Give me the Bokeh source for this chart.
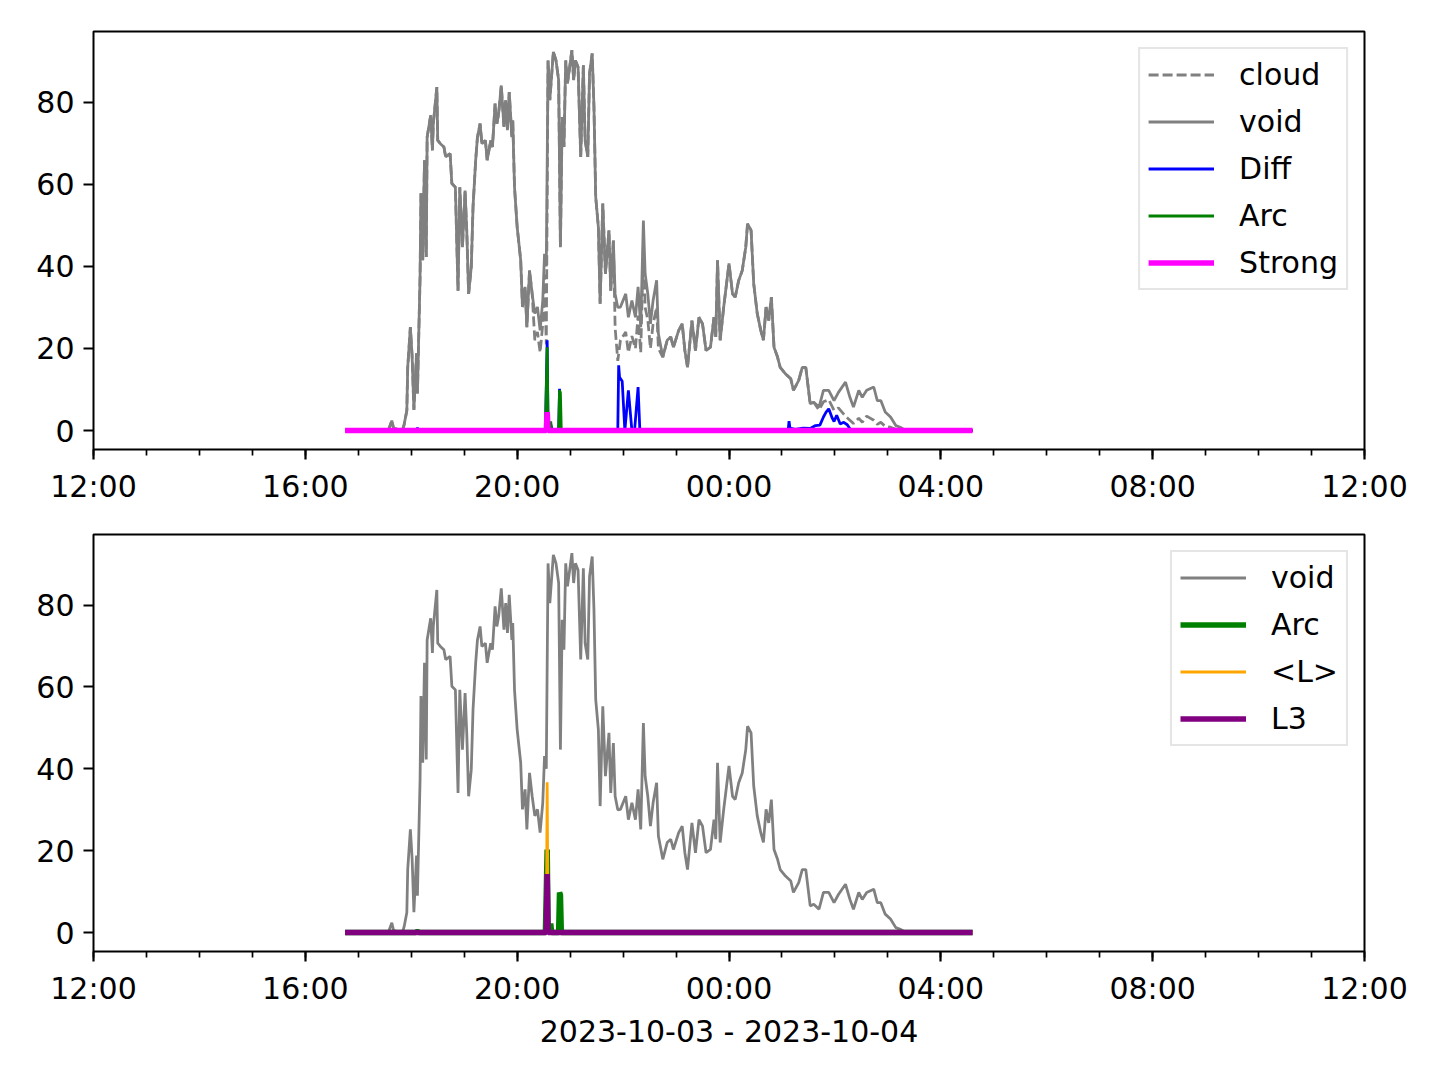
import pandas as pd
from bokeh.plotting import figure
from bokeh.layouts import column
from bokeh.models import Range1d, FixedTicker, DatetimeTickFormatter
from bokeh.embed import file_html
from bokeh.resources import INLINE

# ---------------- data ----------------
void = [("16:45", 0), ("17:34", 0), ("17:38", 2.4), ("17:40", 0.5), ("17:50", 0), ("17:52", 1.5),
        ("17:55", 4.9), ("17:56", 15.4), ("17:59", 25.2), ("18:01", 18), ("18:03", 5), ("18:06", 18.8),
        ("18:07", 9), ("18:10", 37.4), ("18:11", 57.8), ("18:13", 41.5), ("18:15", 65.9), ("18:17", 42.3),
        ("18:18", 71.5), ("18:22", 76.8), ("18:24", 68.3), ("18:25", 74.8), ("18:29", 83.7), ("18:30", 70.7),
        ("18:33", 69.9), ("18:37", 69.1), ("18:39", 66.7), ("18:44", 67.5), ("18:46", 60.2), ("18:50", 59.3),
        ("18:53", 34.1), ("18:55", 59.3), ("18:58", 44.7), ("19:01", 58.5), ("19:03", 48), ("19:05", 33.3),
        ("19:08", 39.8), ("19:10", 54.5), ("19:13", 65.9), ("19:15", 71.5), ("19:18", 74.8), ("19:20", 69.9),
        ("19:24", 70.7), ("19:26", 65.9), ("19:30", 70.7), ("19:32", 69.1), ("19:35", 79.7), ("19:37", 74.8),
        ("19:39", 77.2), ("19:42", 84.1), ("19:45", 74), ("19:47", 80.5), ("19:49", 73.2), ("19:51", 82.5),
        ("19:54", 71.5), ("19:55", 75.6), ("19:57", 59.3), ("20:00", 49.6), ("20:04", 41.5), ("20:06", 30.1),
        ("20:09", 35), ("20:11", 25.2), ("20:14", 39), ("20:17", 33.3), ("20:20", 28.5), ("20:23", 30.1),
        ("20:26", 24.4), ("20:29", 31.7), ("20:31", 43.1), ("20:33", 40), ("20:35", 90.2), ("20:37", 80.5),
        ("20:41", 92.3), ("20:44", 90.2), ("20:47", 85.4), ("20:49", 44.7), ("20:51", 76.4), ("20:53", 69.1),
        ("20:55", 90.2), ("20:57", 84.6), ("21:00", 89.4), ("21:02", 92.7), ("21:04", 85.4), ("21:06", 90.2),
        ("21:09", 88.6), ("21:12", 66.7), ("21:15", 89), ("21:17", 70.7), ("21:20", 66.7), ("21:22", 87),
        ("21:25", 91.9), ("21:27", 78.9), ("21:29", 56.9), ("21:32", 49.6), ("21:34", 30.9), ("21:37", 55.3),
        ("21:40", 38.2), ("21:44", 48.8), ("21:46", 34.1), ("21:49", 46.3), ("21:51", 33.3), ("21:54", 30),
        ("21:57", 30.1), ("22:03", 33.3), ("22:06", 27.6), ("22:10", 31.7), ("22:14", 27.6), ("22:17", 35),
        ("22:20", 25.2), ("22:23", 51.2), ("22:25", 38.2), ("22:28", 33.3), ("22:31", 26), ("22:34", 31.7),
        ("22:38", 36.6), ("22:40", 23.6), ("22:45", 17.9), ("22:50", 22), ("22:54", 22.8), ("22:57", 20.3),
        ("23:03", 24.4), ("23:07", 26), ("23:10", 19.5), ("23:13", 15.4), ("23:18", 26.8), ("23:22", 19.5),
        ("23:26", 27.6), ("23:30", 26), ("23:34", 19.5), ("23:39", 20.3), ("23:43", 27.6), ("23:45", 22.8),
        ("23:47", 41.5), ("23:50", 22), ("23:54", 30.1), ("00:00", 40.7), ("00:04", 33.3), ("00:07", 32.5),
        ("00:11", 36.6), ("00:15", 39), ("00:19", 44.7), ("00:21", 50.4), ("00:25", 48.8), ("00:28", 35.8),
        ("00:32", 28.5), ("00:36", 24.4), ("00:39", 22), ("00:42", 30.1), ("00:45", 26.8), ("00:48", 32.5),
        ("00:51", 20.3), ("00:55", 17.9), ("00:58", 15.4), ("01:04", 13.8), ("01:10", 12.6), ("01:13", 9.8),
        ("01:19", 12.2), ("01:23", 15.4), ("01:27", 15.4), ("01:32", 6.5), ("01:36", 6.9), ("01:42", 5.7),
        ("01:47", 9.8), ("01:53", 9.8), ("01:59", 7.3), ("02:04", 9.3), ("02:12", 11.8), ("02:17", 8.1),
        ("02:21", 5.7), ("02:27", 9.8), ("02:31", 8.1), ("02:36", 9.8), ("02:44", 10.6), ("02:48", 7.3),
        ("02:52", 7.3), ("02:57", 4.5), ("03:03", 3.3), ("03:09", 1.2), ("03:14", 0.8), ("03:20", 0),
        ("04:36", 0)]

cloud = [("16:45", 0), ("17:34", 0), ("17:38", 2.4), ("17:40", 0.5), ("17:50", 0), ("17:52", 1.5),
         ("17:55", 4.9), ("17:56", 15.4), ("17:59", 25.2), ("18:01", 18), ("18:03", 5), ("18:06", 18.8),
         ("18:07", 9), ("18:10", 37.4), ("18:11", 57.8), ("18:13", 41.5), ("18:15", 65.9), ("18:17", 42.3),
         ("18:18", 71.5), ("18:22", 76.8), ("18:24", 68.3), ("18:25", 74.8), ("18:29", 83.7), ("18:30", 70.7),
         ("18:33", 69.9), ("18:37", 69.1), ("18:39", 66.7), ("18:44", 67.5), ("18:46", 60.2), ("18:50", 59.3),
         ("18:53", 34.1), ("18:55", 59.3), ("18:58", 44.7), ("19:01", 58.5), ("19:03", 48), ("19:05", 33.3),
         ("19:08", 39.8), ("19:10", 54.5), ("19:13", 65.9), ("19:15", 71.5), ("19:18", 74.8), ("19:20", 69.9),
         ("19:24", 70.7), ("19:26", 65.9), ("19:30", 70.7), ("19:32", 69.1), ("19:35", 79.7), ("19:37", 74.8),
         ("19:39", 77.2), ("19:42", 84.1), ("19:45", 74), ("19:47", 80.5), ("19:49", 73.2), ("19:51", 82.5),
         ("19:54", 71.5), ("19:55", 75.6), ("19:57", 59.3), ("20:00", 49.6), ("20:04", 41.5), ("20:06", 30.1),
         ("20:09", 35), ("20:11", 25.2), ("20:14", 39), ("20:17", 33.3), ("20:20", 22), ("20:23", 24),
         ("20:26", 19), ("20:29", 26), ("20:31", 38), ("20:33", 21), ("20:35", 90.2), ("20:37", 80.5),
         ("20:41", 92.3), ("20:44", 90.2), ("20:47", 85.4), ("20:49", 44.7), ("20:51", 76.4), ("20:53", 69.1),
         ("20:55", 90.2), ("20:57", 84.6), ("21:00", 89.4), ("21:02", 92.7), ("21:04", 85.4), ("21:06", 90.2),
         ("21:09", 88.6), ("21:12", 66.7), ("21:15", 89), ("21:17", 70.7), ("21:20", 66.7), ("21:22", 87),
         ("21:25", 91.9), ("21:27", 78.9), ("21:29", 56.9), ("21:32", 49.6), ("21:34", 30.9), ("21:37", 55.3),
         ("21:40", 38.2), ("21:44", 48.8), ("21:46", 34.1), ("21:49", 46.3), ("21:51", 25), ("21:54", 17),
         ("21:57", 22), ("22:03", 24), ("22:06", 19), ("22:10", 23), ("22:14", 20), ("22:17", 28),
         ("22:20", 19), ("22:23", 45), ("22:25", 30), ("22:28", 27), ("22:31", 20), ("22:34", 26),
         ("22:38", 30), ("22:40", 20), ("22:45", 17.9), ("22:50", 22), ("22:54", 22.8), ("22:57", 20.3),
         ("23:03", 24.4), ("23:07", 26), ("23:10", 19.5), ("23:13", 15.4), ("23:18", 26.8), ("23:22", 19.5),
         ("23:26", 27.6), ("23:30", 26), ("23:34", 19.5), ("23:39", 20.3), ("23:43", 27.6), ("23:45", 22.8),
         ("23:47", 41.5), ("23:50", 22), ("23:54", 30.1), ("00:00", 40.7), ("00:04", 33.3), ("00:07", 32.5),
         ("00:11", 36.6), ("00:15", 39), ("00:19", 44.7), ("00:21", 50.4), ("00:25", 48.8), ("00:28", 35.8),
         ("00:32", 28.5), ("00:36", 24.4), ("00:39", 22), ("00:42", 30.1), ("00:45", 26.8), ("00:48", 32.5),
         ("00:51", 20.3), ("00:55", 17.9), ("00:58", 15.4), ("01:04", 13.8), ("01:10", 12.6), ("01:13", 9.8),
         ("01:19", 12.2), ("01:23", 15.4), ("01:27", 15.4), ("01:32", 6.5), ("01:36", 6.9), ("01:42", 5),
         ("01:47", 7), ("01:53", 7.5), ("01:59", 4.9), ("02:04", 5.5), ("02:12", 3.5), ("02:17", 2.5),
         ("02:21", 1.7), ("02:27", 3), ("02:31", 2), ("02:36", 3.5), ("02:44", 2.5), ("02:48", 1.5),
         ("02:52", 2), ("02:57", 1), ("03:03", 0.8), ("03:09", 0.3), ("03:14", 0.2), ("03:20", 0),
         ("04:36", 0)]

diff = [("16:45", 0), ("18:05", 0), ("18:07", 0.6), ("18:09", 0), ("20:32", 0), ("20:34", 22),
        ("20:35", 1), ("20:38", 1.5), ("20:40", 0), ("20:47", 0), ("20:48", 10.2), ("20:49", 0.5),
        ("20:50", 0), ("21:54", 0), ("21:55", 15.9), ("21:56", 13), ("21:59", 12), ("22:02", 0),
        ("22:06", 9.8), ("22:10", 0), ("22:13", 0), ("22:17", 10.6), ("22:19", 0), ("01:07", 0),
        ("01:08", 2.3), ("01:09", 0.6), ("01:15", 0.3), ("01:24", 0.6), ("01:32", 0.5), ("01:38", 1.2),
        ("01:43", 1.3), ("01:47", 3.3), ("01:50", 4.5), ("01:53", 5.3), ("01:57", 3), ("01:59", 2.2),
        ("02:02", 3.7), ("02:06", 1.6), ("02:10", 2), ("02:14", 1.4), ("02:17", 0.4), ("02:20", 0),
        ("04:36", 0)]

arc = [("16:45", 0), ("18:05", 0), ("18:07", 0.3), ("18:09", 0), ("20:32", 0), ("20:34", 20.3),
       ("20:35", 0.5), ("20:37", 0), ("20:38", 2.2), ("20:39", 0), ("20:47", 0), ("20:48", 9.8),
       ("20:49", 9.2), ("20:50", 0), ("04:36", 0)]

strong = [("16:45", 0), ("20:33", 0), ("20:34", 4.5), ("20:35", 0), ("04:36", 0)]
l_mean = [("16:45", 0), ("20:33", 0), ("20:34", 36.7), ("20:35", 0), ("04:36", 0)]
l3 = [("16:45", 0), ("20:33", 0), ("20:34", 14.3), ("20:35", 0), ("04:36", 0)]

x_major = ["12:00", "16:00", "20:00", "00:00", "04:00", "08:00", "12:00+"]
y_ticks = [0, 20, 40, 60, 80]
x_label = "2023-10-03 - 2023-10-04"


def to_dt(hm):
    nxt = hm.endswith("+")
    hm = hm.rstrip("+")
    h = int(hm.split(":")[0])
    day = "2023-10-04" if (h < 12 or nxt) else "2023-10-03"
    return pd.Timestamp(f"{day} {hm}")


def series(pairs):
    return [to_dt(t) for t, _ in pairs], [v for _, v in pairs]


def ms(ts):
    return ts.value // 10**6


major_ms = [ms(to_dt(t)) for t in x_major]
minor_ms = [ms(pd.Timestamp("2023-10-03 12:00") + pd.Timedelta(hours=h)) for h in range(25)]

FONT = "DejaVu Sans"
FS = "30px"
LW1 = 2.78
LW2 = 5.56


def make_fig(height, top, bottom):
    p = figure(width=1432, height=height, x_axis_type="datetime",
               output_backend="svg", toolbar_location=None,
               min_border_left=93, min_border_right=68,
               min_border_top=top, min_border_bottom=bottom)
    p.x_range = Range1d(to_dt("12:00"), to_dt("12:00+"))
    p.y_range = Range1d(-4.63, 97.26)
    p.xgrid.visible = False
    p.ygrid.visible = False
    p.outline_line_color = "black"
    p.outline_line_width = 2
    p.background_fill_color = "white"
    p.border_fill_color = "white"
    p.xaxis[0].ticker = FixedTicker(ticks=major_ms, minor_ticks=minor_ms)
    p.xaxis[0].formatter = DatetimeTickFormatter(
        microseconds="%H:%M", milliseconds="%H:%M", seconds="%H:%M", minsec="%H:%M",
        minutes="%H:%M", hourmin="%H:%M", hours="%H:%M", days="%H:%M",
        months="%H:%M", years="%H:%M", strip_leading_zeros=False)
    p.yaxis[0].ticker = FixedTicker(ticks=y_ticks, minor_ticks=[])
    for ax in (p.xaxis[0], p.yaxis[0]):
        ax.axis_line_color = None
        ax.major_tick_out = 10
        ax.major_tick_in = 0
        ax.major_tick_line_width = 2.2
        ax.major_tick_line_color = "black"
        ax.minor_tick_out = 6
        ax.minor_tick_in = 0
        ax.minor_tick_line_width = 1.7
        ax.minor_tick_line_color = "black"
        ax.major_label_text_font = FONT
        ax.major_label_text_font_size = FS
        ax.major_label_text_color = "black"
        ax.major_label_standoff = 9
    return p


def style_legend(p):
    lg = p.legend[0]
    lg.location = "top_right"
    lg.margin = 16
    lg.padding = 8
    lg.spacing = 12
    lg.label_height = 33
    lg.glyph_height = 33
    lg.glyph_width = 66
    lg.label_standoff = 25
    lg.label_text_font = FONT
    lg.label_text_font_size = FS
    lg.label_text_color = "black"
    lg.border_line_color = "#cccccc"
    lg.border_line_width = 2
    lg.background_fill_alpha = 0.8


# ---------------- top panel ----------------
p1 = make_fig(508, 31, 59)
x, y = series(cloud)
p1.line(x, y, color="gray", line_width=LW1, line_dash="10 4", legend_label="cloud")
x, y = series(void)
p1.line(x, y, color="gray", line_width=LW1, legend_label="void")
x, y = series(diff)
p1.line(x, y, color="blue", line_width=LW1, legend_label="Diff")
x, y = series(arc)
p1.line(x, y, color="green", line_width=LW1, legend_label="Arc")
x, y = series(strong)
p1.line(x, y, color="magenta", line_width=LW2, legend_label="Strong")
style_legend(p1)

# ---------------- bottom panel ----------------
p2 = make_fig(548, 26, 105)
x, y = series(void)
p2.line(x, y, color="gray", line_width=LW1, legend_label="void")
x, y = series(arc)
p2.line(x, y, color="green", line_width=LW2, legend_label="Arc")
x, y = series(l_mean)
p2.line(x, y, color="orange", line_width=LW1, legend_label="<L>")
x, y = series(l3)
p2.line(x, y, color="purple", line_width=LW2, legend_label="L3")
style_legend(p2)
p2.xaxis[0].axis_label = x_label
p2.xaxis[0].axis_label_text_font = FONT
p2.xaxis[0].axis_label_text_font_size = FS
p2.xaxis[0].axis_label_text_font_style = "normal"
p2.xaxis[0].axis_label_text_color = "black"
p2.xaxis[0].axis_label_standoff = 5

layout = column(p1, p2)
open("out.html", "w").write(file_html(layout, INLINE))
